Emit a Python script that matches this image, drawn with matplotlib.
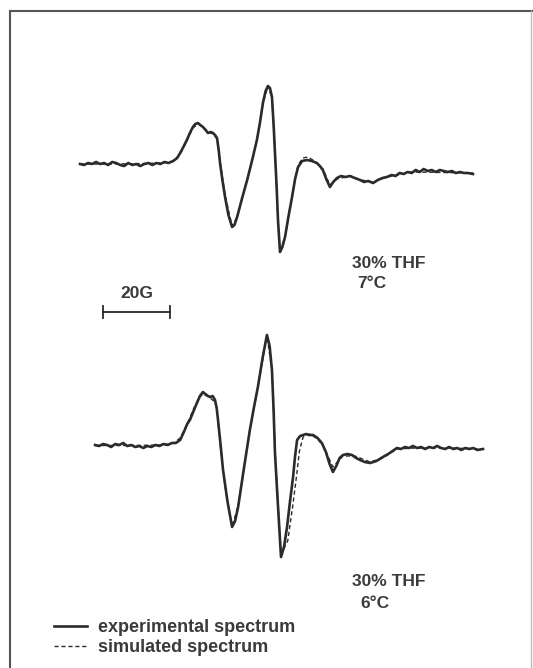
"""EPR spectra, 30% THF at 7 and 6 degC: experimental vs simulated."""
import matplotlib
matplotlib.use("Agg")
import matplotlib.pyplot as plt
from matplotlib.lines import Line2D

# field (G) and derivative amplitude (arb. units)
top_exp_field = [0, 1.2, 2.4, 3.6, 4.8, 6, 7.2, 8.4, 9.6, 10.8, 12, 13.2, 14.4, 15.6, 16.8, 18,
                 19.2, 20.4, 21.6, 22.8, 24, 25.2, 26.4, 27.8, 29.0, 29.9, 31.0, 31.9, 32.8, 33.7,
                 34.4, 35.2, 35.9, 36.7, 37.5, 38.2, 39.0, 39.7, 40.3, 40.9, 41.4, 41.8, 42.5,
                 43.3, 44.3, 45.4, 46.1, 46.9, 48.4, 49.9, 51.4, 52.8, 53.7, 54.6, 55.4, 56.1,
                 56.7, 57.3, 57.8, 58.2, 58.7, 59.1, 59.7, 60.4, 61.2, 62.2, 63.3, 64.2, 65.1,
                 66.3, 67.8, 69.2, 70.7, 71.6, 72.5, 73.5, 74.6, 75.6, 76.7, 77.9, 79.2, 80.6,
                 82.0, 83.6, 84.8, 86.0, 87.5, 88.9, 90.3, 91.6, 93.0, 94.2, 95.4, 96.6, 97.8,
                 99.0, 100.2, 101.4, 102.6, 103.8, 105.0, 106.2, 107.4, 108.6, 109.8, 111.0,
                 112.2, 113.4, 114.6, 115.8, 117.3]
top_exp_amp = [1, 0, 2, 1, 3, 1, 2, 0, 3, 2, 0, -1, 2, 0, 1, -1,
               1, 2, 0, 2, 1, 3, 2, 4, 7, 12, 19, 25, 32, 38,
               41, 42, 40, 38, 35, 32, 33, 32, 30, 27, 15, 2, -15,
               -32, -50, -62, -60, -52, -33, -15, 5, 25, 42, 62, 74, 79,
               77, 68, 40, 12, -22, -55, -87, -82, -72, -52, -32, -14, -2,
               4, 5, 4, 2, -1, -5, -14, -22, -17, -13, -11, -12, -11,
               -13, -15, -17, -16, -18, -15, -13, -12, -10, -11, -8, -9, -7,
               -8, -5, -7, -4, -6, -5, -7, -5, -6, -7, -6,
               -8, -7, -8, -8, -9]

top_sim_field = [0, 10, 20, 26, 28, 29.9, 31.9, 33.7, 35.2, 36.7, 38.2, 39.7, 40.9, 41.8, 43.3,
                 45.4, 46.9, 49.9, 52.8, 54.6, 56.1, 57.3, 58.2, 59.1, 59.7, 61.2, 63.3, 65.1,
                 66.5, 68.0, 70.0, 72.5, 74.6, 76.7, 80.6, 84.0, 87.5, 91.6, 99.0, 117.3]
top_sim_amp = [1, 1, 1.5, 2.5, 4, 11, 24, 37, 41, 38, 33, 31, 26, 4, -30,
               -61, -52, -15, 24, 61, 79, 67, 12, -55, -86, -72, -30, 0,
               7, 8, 4, -4, -20, -14, -11, -15, -17, -12, -7, -8]

bot_exp_field = [4.5, 5.7, 6.9, 8.1, 9.3, 10.5, 11.7, 12.9, 14.1, 15.3, 16.5, 17.7, 18.9, 20.1,
                 21.3, 22.5, 23.7, 24.9, 26.2, 27.4, 28.6, 29.9, 31.0, 32.0, 32.8, 33.9, 34.9,
                 35.8, 36.7, 37.4, 38.2, 38.8, 39.6, 40.3, 40.8, 41.2, 42.0, 42.7, 44.0, 45.4,
                 46.3, 47.2, 48.9, 50.7, 52.0, 53.1, 54.5, 55.8, 56.6, 57.3, 57.8, 58.2, 59.1,
                 60.0, 60.9, 61.8, 62.7, 63.6, 64.2, 64.8, 65.7, 66.6, 67.5, 68.4, 69.6, 70.9,
                 72.2, 73.4, 74.5, 75.5, 76.5, 77.5, 78.5, 79.8, 81.2, 82.4, 83.6, 85.0, 86.6,
                 88.5, 90.4, 92.0, 93.3, 94.6, 95.8, 97.0, 98.2, 99.4, 100.6, 101.8, 103.0,
                 104.2, 105.4, 106.6, 107.8, 109.0, 110.2, 111.4, 112.6, 113.8, 115.0, 116.2,
                 117.4, 118.6, 120.3]
bot_exp_amp = [1, 0, 2, 1, -1, 2, 1, 3, 0, 1, -1, 0, -2, 0,
               -1, 1, 0, 2, 1, 3, 3, 6, 14, 22, 26, 35, 43,
               50, 54, 52, 50, 49, 50, 46, 38, 26, 0, -24, -55, -81,
               -75, -61, -23, 16, 40, 59, 88, 111, 100, 76, 35, -7, -60,
               -111, -101, -81, -55, -31, -10, 6, 10, 11, 12, 11, 11, 8,
               3, -6, -18, -26, -20, -12, -9, -8, -9, -12, -14, -16, -17,
               -15, -11, -8, -5, -2, -3, -1, -2, 0, -2, -1, -3,
               -1, -2, 0, -2, -3, -1, -3, -2, -4, -2, -3,
               -2, -4, -3]

bot_sim_field = [4.5, 15, 25, 28, 29.9, 32, 34, 35.5, 36.7, 38.5, 40.3, 41.0, 42.2, 43.5, 45.4,
                 47.2, 50.7, 53.1, 55.8, 57.3, 58.3, 60.0, 62.0, 63.5, 64.6, 65.5, 66.6, 68.5,
                 70.5, 72.5, 75.5, 78.5, 82.0, 86.6, 90.4, 94.6, 100, 110, 120.3]
bot_sim_amp = [0.5, 0.5, 1, 3, 8, 22, 38, 48, 52, 49, 44, 32, -10, -45, -80,
               -60, 16, 59, 110, 76, -10, -108, -95, -60, -31, -5, 9, 12,
               8, 1, -21, -10, -10, -16, -12, -3, -2, -2, -3]

conditions = [("30% THF", "7\u00b0C"), ("30% THF", "6\u00b0C")]
scale_bar_gauss = 20

W, H = 533, 668
fig = plt.figure(figsize=(W / 100, H / 100), dpi=100)
ax = fig.add_axes([0, 0, 1, 1])
ax.set_xlim(-23.88, 135.22)   # 3.35 px per gauss
ax.set_ylim(0, H)
ax.axis("off")

ink = "#2b2b2b"
font = dict(family="Liberation Sans", color="#3a3a3a", weight="bold")
top_base, bot_base = 503, 222

exp_line, = ax.plot(top_exp_field, [a + top_base for a in top_exp_amp], color=ink, lw=1.9,
                    solid_joinstyle="round")
sim_line, = ax.plot(top_sim_field, [a + top_base for a in top_sim_amp],
                    color=ink, lw=1.0, ls=(0, (3, 2)))
ax.plot(bot_exp_field, [a + bot_base for a in bot_exp_amp], color=ink, lw=1.9,
        solid_joinstyle="round")
ax.plot(bot_sim_field, [a + bot_base for a in bot_sim_amp], color=ink, lw=1.0, ls=(0, (3, 2)))

# 20 G scale bar
x0 = 6.87
ax.plot([x0, x0 + scale_bar_gauss], [356, 356], color=ink, lw=1.3)
for xe in (x0, x0 + scale_bar_gauss):
    ax.plot([xe, xe], [350, 362], color=ink, lw=1.3)
ax.text(x0 + scale_bar_gauss / 2, 374, f"{scale_bar_gauss}G", ha="center", va="center",
        fontsize=12.5, **font)

# condition labels
for (solv, temp), (y1, y2, xt) in zip(conditions, [(404, 384, 82.7), (87, 65, 83.6)]):
    ax.text(81.2, y1, solv, ha="left", va="center", fontsize=12.5, **font)
    ax.text(xt, y2, temp, ha="left", va="center", fontsize=12.5, **font)

leg = ax.legend([exp_line, sim_line], ["experimental spectrum", "simulated spectrum"],
                loc="lower left", bbox_to_anchor=(45 / W, 3 / H), frameon=False,
                borderpad=0, handlelength=1.8, handletextpad=0.65, labelspacing=0.15,
                prop=dict(family="Liberation Sans", size=13, weight="bold"))
for t in leg.get_texts():
    t.set_color("#3a3a3a")

# page frame
fig.add_artist(Line2D([10 / W, 10 / W], [0, 1 - 11 / H], color="#555555", lw=1.5))
fig.add_artist(Line2D([10 / W, 1], [1 - 11 / H, 1 - 11 / H], color="#555555", lw=1.5))
fig.add_artist(Line2D([531 / W, 531 / W], [0, 1 - 11 / H], color="#bbbbbb", lw=1.0))

fig.savefig("out.png", dpi=100)
